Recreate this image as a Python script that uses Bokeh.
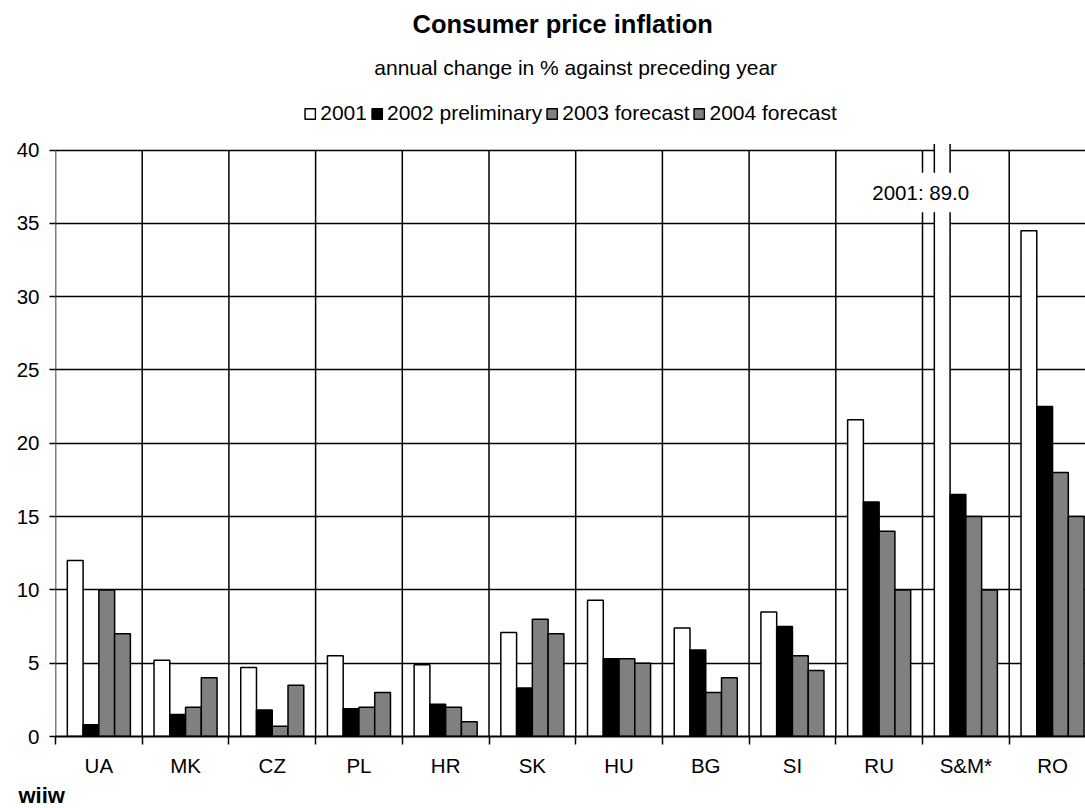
from bokeh.plotting import figure
from bokeh.models import Range1d, FixedTicker, Title, Legend, LegendItem, BoxAnnotation
from bokeh.embed import file_html
from bokeh.resources import INLINE

countries = ["UA", "MK", "CZ", "PL", "HR", "SK", "HU", "BG", "SI", "RU", "S&M*", "RO"]
y2001 = [12.0, 5.2, 4.7, 5.5, 4.9, 7.1, 9.3, 7.4, 8.5, 21.6, 89.0, 34.5]
y2002 = [0.8, 1.5, 1.8, 1.9, 2.2, 3.3, 5.3, 5.9, 7.5, 16.0, 16.5, 22.5]
y2003 = [10.0, 2.0, 0.7, 2.0, 2.0, 8.0, 5.3, 3.0, 5.5, 14.0, 15.0, 18.0]
y2004 = [7.0, 4.0, 3.5, 3.0, 1.0, 7.0, 5.0, 4.0, 4.5, 10.0, 10.0, 15.0]
series_names = ["2001", "2002 preliminary", "2003 forecast", "2004 forecast"]
series_colors = ["white", "black", "#808080", "#808080"]
y_ticks = [0, 5, 10, 15, 20, 25, 30, 35, 40]
break_note = "2001: 89.0"
title_text = "Consumer price inflation"
subtitle_text = "annual change in % against preceding year"
source_text = "wiiw"

FONT = "Liberation Sans"
n = len(countries)
bw = 1.0 / 5.5  # Excel gap width 150%
y_max = y_ticks[-1]
Y_TOP = 50.2          # frame reaches up to the top of the page; headings live inside it
BREAK_CAP = y_max + 1.0   # off-scale bars are cut here (axis break), rest masked below

p = figure(width=1085, height=808, output_backend="svg", toolbar_location=None,
           x_range=Range1d(0, 11.88), y_range=Range1d(0, Y_TOP),
           min_border_left=55, min_border_right=0, min_border_top=0, min_border_bottom=70)
p.outline_line_color = None
p.background_fill_color = "white"
p.border_fill_color = "white"

# grid
p.xgrid.visible = False
p.ygrid.ticker = FixedTicker(ticks=y_ticks[1:])
p.ygrid.grid_line_color = "black"
p.ygrid.grid_line_width = 1.5

bounds = list(range(n + 1))
p.segment(x0=bounds, y0=[0] * len(bounds), x1=bounds, y1=[y_max] * len(bounds),
          line_color="black", line_width=1.5)

series = [y2001, y2002, y2003, y2004]
renderers = []
for k, vals in enumerate(series):
    off = (k - 1.5) * bw
    xs = [i + 0.5 + off for i in range(n)]
    tops = [min(v, BREAK_CAP) for v in vals]
    r = p.vbar(x=xs, top=tops, bottom=0, width=bw, fill_color=series_colors[k],
               line_color="black", line_width=1.5)
    renderers.append(r)

# axis-break treatment for the S&M* 2001 bar (off scale)
si = countries.index("S&M*")
p.add_layout(BoxAnnotation(left=si, right=si + 0.5, bottom=y_max + 0.42, top=None,
                           fill_color="white", fill_alpha=1.0, line_color=None))
p.add_layout(BoxAnnotation(left=si - 0.6, right=si + 0.62, bottom=35.75, top=38.45,
                           fill_color="white", fill_alpha=1.0, line_color=None))
p.text(x=[si - 0.02], y=[37.1], text=[break_note], text_align="center", text_baseline="middle",
       text_font={"value": FONT}, text_font_size="20.5px", text_color="black", level="overlay")

# headings
p.text(x=[5.85], y=[48.6], text=[title_text], text_align="center", text_baseline="middle",
       text_font={"value": FONT}, text_font_size="25.5px", text_font_style="bold",
       text_color="black")
p.text(x=[6.0], y=[45.6], text=[subtitle_text], text_align="center", text_baseline="middle",
       text_font={"value": FONT}, text_font_size="21px", text_color="black")

# axes
p.yaxis.ticker = FixedTicker(ticks=y_ticks)
p.yaxis.axis_line_color = None
p.yaxis.major_tick_out = 6
p.yaxis.major_tick_in = 0
p.yaxis.major_tick_line_width = 1.5
p.yaxis.minor_tick_line_color = None
p.yaxis.major_label_standoff = 10
p.yaxis.major_label_text_font = FONT
p.yaxis.major_label_text_font_size = "20.5px"
p.yaxis.major_label_text_color = "black"

centers = [i + 0.5 for i in range(n)]
p.xaxis.ticker = FixedTicker(ticks=centers, minor_ticks=bounds)
p.xaxis.major_label_overrides = {c: name for c, name in zip(centers, countries)}
p.xaxis.major_tick_line_color = None
p.xaxis.major_tick_out = 0
p.xaxis.major_tick_in = 0
p.xaxis.minor_tick_out = 8
p.xaxis.minor_tick_in = 0
p.xaxis.minor_tick_line_color = "black"
p.xaxis.minor_tick_line_width = 1.5
p.xaxis.axis_line_color = "black"
p.xaxis.axis_line_width = 2
p.xaxis.major_label_standoff = 9
p.xaxis.major_label_text_font = FONT
p.xaxis.major_label_text_font_size = "20.5px"
p.xaxis.major_label_text_color = "black"

legend = Legend(items=[LegendItem(label=s, renderers=[r]) for s, r in zip(series_names, renderers)],
                orientation="horizontal", location="top_center")
legend.glyph_width = 13
legend.glyph_height = 13
legend.label_height = 22
legend.label_text_font = FONT
legend.label_text_font_size = "21px"
legend.label_text_color = "black"
legend.label_standoff = 4
legend.spacing = 3
legend.padding = 0
legend.margin = 101
legend.border_line_color = None
legend.background_fill_alpha = 0
p.add_layout(legend, "center")

src = Title(text=source_text, align="left", offset=-37, text_font=FONT, text_font_size="22px",
            text_color="black", text_font_style="bold", standoff=2)
p.add_layout(src, "below")

open("out.html", "w").write(file_html(p, INLINE))
